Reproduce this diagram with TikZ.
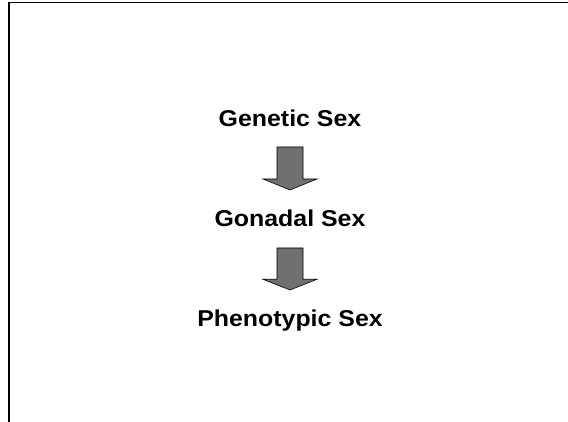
\documentclass[tikz,border=0pt]{standalone}
\usepackage{fontspec}
\setmainfont{Liberation Sans}
\begin{document}
\begin{tikzpicture}[x=1pt,y=1pt,
  label/.style={font=\fontsize{24.9}{28}\bfseries\selectfont, anchor=base, inner sep=0pt, yscale=0.92},
  bigarrow/.style={fill=black!56, draw=black, line width=0.6pt, line join=miter}]
\useasboundingbox (0,0) rectangle (568,-422);
\fill[white] (0,0) rectangle (568,-422);
% frame
\coordinate (tl) at (9,-2.7);
\coordinate (tr) at (568,-2.7);
\coordinate (bl) at (9,-422);
\draw[line width=1.3pt] (tr) -- (tl) -- (bl);
% texts
\node[label] (gen) at (290,-126.7) {Genetic Sex};
\node[label] (gon) at (290,-226.7) {Gonadal Sex};
\node[label] (phe) at (290,-326.7) {Phenotypic Sex};
% arrows
\draw[bigarrow] (277,-147) -- (303,-147) -- (303,-179) -- (317,-179) -- (290,-190) -- (263,-179) -- (277,-179) -- cycle;
\draw[bigarrow] (277,-248) -- (303,-248) -- (303,-279.3) -- (317,-279.3) -- (290,-290) -- (263,-279.3) -- (277,-279.3) -- cycle;
\end{tikzpicture}
\end{document}
